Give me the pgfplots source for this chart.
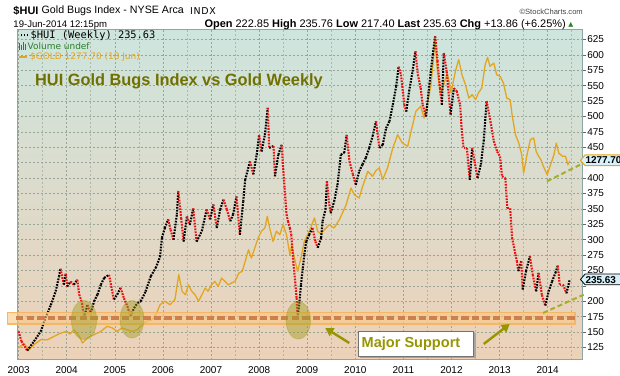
\documentclass[border=0pt]{standalone}
\usepackage{fontspec}
\setmainfont{Liberation Sans}
\newfontfamily\dvs{DejaVu Sans}
\newfontfamily\dvsw[LetterSpace=7]{DejaVu Sans}
\newfontfamily\dvm{DejaVu Sans Mono}
\usepackage{pgfplots}
\pgfplotsset{compat=1.18}
\usetikzlibrary{arrows.meta}
\definecolor{bgtop}{RGB}{205,229,222}
\definecolor{bgmid}{RGB}{240,230,172}
\definecolor{bgbot}{RGB}{237,209,184}
\definecolor{axisgray}{RGB}{140,165,165}
\definecolor{gridmaj}{RGB}{150,165,150}
\definecolor{gridmin}{RGB}{172,184,168}
\definecolor{goldc}{RGB}{226,166,34}
\definecolor{huired}{RGB}{232,16,16}
\definecolor{titleol}{RGB}{112,112,0}
\definecolor{supol}{RGB}{150,150,0}
\definecolor{trendc}{RGB}{165,175,45}
\definecolor{bandfill}{RGB}{250,200,130}
\definecolor{bandline}{RGB}{246,180,95}
\definecolor{dashbr}{RGB}{205,128,78}
\definecolor{ellc}{RGB}{160,155,30}
\definecolor{lblblue}{RGB}{214,241,250}
\definecolor{volgreen}{RGB}{40,130,40}
\definecolor{hdrgray}{RGB}{70,70,70}

\pgfplotstableread{
x y c
2003.00 151 1
2003.06 135 1
2003.18 120 0
2003.32 135 0
2003.46 151 0
2003.56 173 0
2003.67 194 0
2003.77 216 0
2003.84 240 0
2003.87 253 1
2003.94 227 0
2003.98 245 1
2004.01 224 0
2004.08 232 1
2004.15 227 0
2004.22 235 1
2004.26 211 1
2004.32 197 1
2004.36 173 0
2004.43 194 1
2004.50 181 0
2004.57 200 0
2004.64 211 0
2004.71 227 0
2004.78 238 0
2004.88 243 1
2004.98 203 0
2005.05 211 0
2005.12 222 1
2005.19 205 1
2005.26 192 1
2005.33 176 0
2005.40 189 0
2005.47 197 0
2005.54 200 0
2005.64 216 0
2005.75 241 0
2005.85 254 0
2005.94 272 0
2005.98 303 0
2006.04 319 0
2006.11 333 1
2006.16 316 1
2006.22 300 0
2006.29 341 0
2006.32 379 1
2006.38 335 1
2006.43 297 0
2006.50 338 1
2006.56 324 0
2006.63 351 1
2006.70 297 0
2006.81 314 0
2006.91 349 1
2006.98 333 0
2007.05 357 1
2007.12 319 0
2007.19 349 0
2007.26 365 1
2007.33 349 1
2007.40 330 0
2007.46 341 0
2007.53 370 1
2007.60 308 0
2007.67 362 0
2007.71 397 0
2007.81 427 1
2007.88 406 0
2007.95 438 0
2008.00 470 1
2008.05 443 0
2008.12 470 0
2008.18 514 1
2008.21 449 0
2008.30 452 1
2008.33 403 0
2008.40 438 0
2008.47 454 1
2008.50 416 1
2008.53 384 1
2008.57 341 1
2008.60 330 1
2008.64 319 1
2008.67 308 1
2008.71 265 1
2008.75 232 1
2008.78 205 1
2008.80 173 0
2008.84 200 0
2008.87 227 0
2008.91 254 0
2008.94 276 0
2008.98 297 0
2009.04 308 0
2009.11 319 1
2009.17 297 1
2009.22 287 0
2009.29 303 0
2009.32 330 0
2009.38 349 0
2009.41 395 1
2009.45 362 1
2009.49 343 0
2009.56 362 0
2009.63 389 0
2009.70 438 0
2009.77 441 0
2009.82 470 1
2009.88 427 1
2009.95 406 1
2010.01 389 0
2010.08 411 0
2010.15 422 0
2010.22 433 0
2010.29 449 0
2010.36 468 0
2010.43 492 1
2010.50 449 0
2010.57 454 0
2010.64 481 0
2010.71 492 0
2010.78 519 0
2010.85 549 0
2010.90 581 1
2010.95 568 1
2011.02 519 1
2011.06 508 0
2011.12 541 0
2011.19 573 0
2011.25 606 1
2011.30 568 1
2011.36 546 1
2011.40 519 1
2011.47 500 0
2011.54 552 0
2011.61 600 0
2011.66 630 1
2011.71 590 1
2011.76 546 1
2011.80 519 0
2011.84 603 1
2011.90 573 1
2011.98 503 0
2012.05 546 1
2012.11 541 1
2012.18 519 1
2012.21 481 1
2012.25 449 1
2012.32 449 1
2012.38 397 0
2012.43 449 1
2012.48 427 1
2012.54 400 0
2012.61 422 0
2012.67 460 0
2012.73 525 1
2012.81 492 1
2012.88 460 1
2012.95 443 1
2013.01 435 1
2013.05 403 1
2013.12 400 1
2013.16 351 1
2013.22 351 1
2013.26 303 1
2013.33 276 1
2013.36 265 1
2013.39 249 0
2013.45 265 1
2013.48 219 0
2013.55 249 0
2013.63 273 1
2013.69 243 1
2013.76 216 0
2013.81 246 1
2013.88 210 1
2013.95 193 0
2014.02 216 0
2014.09 232 0
2014.16 246 0
2014.21 258 1
2014.25 227 1
2014.32 227 1
2014.39 213 0
2014.46 235.63 0
}\huidata

\pgfplotstableread{
x y
2003.00 358
2003.11 380
2003.22 350
2003.32 375
2003.46 399
2003.60 399
2003.74 416
2003.88 432
2004.00 440
2004.07 427
2004.15 448
2004.26 416
2004.33 383
2004.43 407
2004.57 424
2004.71 440
2004.84 465
2004.95 457
2005.05 440
2005.15 457
2005.26 448
2005.36 440
2005.47 448
2005.57 473
2005.67 490
2005.78 497
2005.87 530
2005.94 571
2006.04 588
2006.15 571
2006.25 596
2006.33 719
2006.40 637
2006.47 620
2006.53 669
2006.60 637
2006.67 620
2006.74 588
2006.81 620
2006.88 653
2006.94 637
2007.01 669
2007.08 686
2007.15 661
2007.22 702
2007.29 686
2007.36 669
2007.43 678
2007.50 686
2007.58 727
2007.65 735
2007.71 784
2007.78 841
2007.84 800
2007.91 849
2007.98 899
2008.05 932
2008.12 948
2008.17 1005
2008.22 948
2008.29 882
2008.36 932
2008.43 915
2008.50 964
2008.57 915
2008.64 817
2008.68 866
2008.75 784
2008.80 735
2008.87 800
2008.94 882
2009.01 915
2009.07 948
2009.15 997
2009.22 930
2009.29 920
2009.36 940
2009.46 964
2009.56 948
2009.67 989
2009.81 1062
2009.91 1144
2009.98 1111
2010.08 1095
2010.15 1150
2010.26 1226
2010.36 1202
2010.43 1230
2010.50 1243
2010.57 1185
2010.67 1243
2010.78 1341
2010.88 1406
2010.98 1365
2011.09 1349
2011.16 1423
2011.26 1521
2011.36 1546
2011.43 1488
2011.50 1562
2011.57 1644
2011.62 1767
2011.66 1881
2011.70 1734
2011.77 1603
2011.84 1652
2011.91 1709
2011.95 1668
2011.99 1611
2012.08 1717
2012.15 1775
2012.22 1699
2012.29 1652
2012.36 1586
2012.43 1603
2012.50 1578
2012.56 1611
2012.63 1636
2012.70 1750
2012.75 1786
2012.80 1742
2012.88 1758
2012.94 1701
2013.01 1693
2013.08 1660
2013.15 1586
2013.22 1578
2013.26 1504
2013.33 1406
2013.40 1365
2013.46 1308
2013.50 1218
2013.57 1308
2013.64 1382
2013.71 1390
2013.76 1325
2013.81 1300
2013.86 1283
2013.91 1251
2013.99 1210
2014.06 1259
2014.13 1308
2014.18 1365
2014.23 1316
2014.31 1300
2014.37 1300
2014.42 1259
2014.46 1277.7
}\golddata

\begin{document}
\begin{tikzpicture}
\path[use as bounding box, fill=white] (0,0) rectangle (620bp,376bp);
\pgfplotsset{common/.style={at={(17.3bp,16.3bp)}, anchor=south west,
  width=565.4bp, height=330bp, scale only axis,
  xmin=2002.973, xmax=2014.728}}
% frame, background, grid, ticks
\begin{axis}[common, ymin=105.2, ymax=640.9,
  axis background/.style={shade, top color=bgtop, middle color=bgmid, bottom color=bgbot},
  axis line style={axisgray, line width=0.9bp},
  xtick={2003,2004,2005,2006,2007,2008,2009,2010,2011,2012,2013,2014},
  xticklabels={2003,2004,2005,2006,2007,2008,2009,2010,2011,2012,2013,2014},
  minor xtick={2003.5,2004.5,2005.5,2006.5,2007.5,2008.5,2009.5,2010.5,2011.5,2012.5,2013.5,2014.5},
  xmajorgrids, xminorgrids, ymajorgrids,
  major grid style={gridmaj, line width=0.55bp, dash pattern=on 2bp off 2bp},
  minor grid style={gridmin, line width=0.55bp, dash pattern=on 2bp off 2bp},
  ytick={125,150,...,625},
  yticklabels={125,150,175,200,{},250,275,300,325,350,375,400,{},450,475,500,525,550,575,600,625},
  ytick pos=right, yticklabel pos=right, xtick pos=bottom,
  tick align=outside, major tick length=3.5bp, minor tick length=0pt,
  xtick style={draw=none},
  ytick style={black!60, line width=0.7bp},
  ticklabel style={font=\fontsize{10}{12}\selectfont, inner sep=1bp},
  xticklabel style={yshift=-2.5bp},
]
\end{axis}
% gold on its own scale
\begin{axis}[common, hide axis, ymin=301, ymax=1922]
\addplot[goldc, line width=1.3bp, line join=round] table[x=x,y=y] {\golddata};
\end{axis}
% HUI
\begin{axis}[common, hide axis, ymin=105.2, ymax=640.9,
  colormap={hc}{color=(black) color=(huired)}, point meta min=0, point meta max=1]
\addplot[mesh, shader=flat corner, point meta=explicit, line width=2.1bp,
  dash pattern=on 1.7bp off 1.2bp] table[x=x,y=y,meta=c] {\huidata};
\end{axis}

\begin{scope}[x=1bp,y=-1bp,shift={(0,376bp)}]
% support band
\fill[bandfill, opacity=0.6] (7.3,312.5) rectangle (575,324);
\draw[bandline, line width=1.2bp, opacity=0.9] (7.3,312.5) rectangle (575,324);
\draw[dashbr, line width=4bp, dash pattern=on 7.3bp off 3.3bp] (16,318.3) -- (575,318.3);
% ellipses
\foreach \cx/\cy/\rx/\ry in {84/320/12.7/19.5, 132/319.3/12/18.7, 298.3/320.3/12.3/18.7}
  {\fill[ellc, opacity=0.45] (\cx,\cy) ellipse [x radius=\rx, y radius=\ry];
   \draw[ellc, opacity=0.35, line width=0.8bp] (\cx,\cy) ellipse [x radius=\rx, y radius=\ry];}
% trend lines
\draw[trendc, line width=2bp, dash pattern=on 5bp off 3bp] (547,181.3) -- (580.3,164.7);
\draw[trendc, line width=2bp, dash pattern=on 5bp off 3bp] (543,313) -- (583.7,294.7);
% major support box and arrows
\fill[black!35] (360.3,333.3) rectangle (475.7,358.3);
\draw[black!55, fill=white, line width=0.8bp] (358.3,331.3) rectangle (473.7,356.3);
\node[anchor=west, inner sep=0, text=supol, font=\fontsize{14.6}{16}\selectfont\bfseries] at (361.5,343.8) {Major Support};
\draw[supol, line width=2.4bp, -{Triangle[length=8bp,width=9bp]}] (349.3,343) -- (325.3,328);
\draw[supol, line width=2.4bp, -{Triangle[length=8bp,width=9bp]}] (483.7,344) -- (509.7,324);
% chart annotation title
\node[anchor=west, inner sep=0, text=titleol, font=\fontsize{16.4}{18}\selectfont\bfseries] at (35,81) {HUI Gold Bugs Index vs Gold Weekly};
% legend
\foreach \dx in {21.5,24.5,27.5} {\fill[black] (\dx-0.8,34.5) rectangle (\dx+0.8,36.1);}
\node[anchor=west, inner sep=0, font=\dvm\fontsize{10.4}{12}\selectfont] at (30.5,35.3) {\$HUI (Weekly) 235.63};
\fill[volgreen] (18.5,43) rectangle (19.8,50);
\fill[volgreen] (20.6,45) rectangle (21.9,50);
\fill[volgreen] (22.7,42) rectangle (24,50);
\fill[volgreen] (24.8,44.5) rectangle (26.1,50);
\node[anchor=west, inner sep=0, text=volgreen, font=\dvs\fontsize{9}{11}\selectfont] at (27.5,46.3) {Volume undef};
\draw[goldc, line width=2.2bp] (19,57) -- (27,57);
\node[anchor=west, inner sep=0, text=goldc, font=\dvs\fontsize{9}{11}\selectfont] at (30,57) {\$GOLD 1277.70 (18 Jun)};
% right value labels
\draw[fill=lblblue, draw=goldc, line width=1bp] (580.5,160.3) -- (585,155) -- (624,155) -- (624,165.6) -- (585,165.6) -- cycle;
\node[anchor=west, inner sep=0, font=\fontsize{10}{12}\selectfont\bfseries] at (585.3,160.5) {1277.70};
\draw[fill=lblblue, draw=black, line width=0.8bp] (580.5,279.4) -- (585,274.1) -- (624,274.1) -- (624,284.7) -- (585,284.7) -- cycle;
\node[anchor=west, inner sep=0, font=\fontsize{10}{12}\selectfont\bfseries] at (585.3,279.6) {235.63};
% header
\node[anchor=west, inner sep=0, font=\fontsize{11}{13}\selectfont\bfseries] at (13.3,11) {\$HUI};
\node[anchor=west, inner sep=0, font=\fontsize{10.7}{12}\selectfont] at (41.5,11) {Gold Bugs Index - NYSE Arca};
\node[anchor=west, inner sep=0, font=\dvsw\fontsize{9.5}{10}\selectfont] at (190,11.5) {INDX};
\node[anchor=east, inner sep=0, text=hdrgray, font=\fontsize{7.6}{9}\selectfont] at (583,11.5) {\textcopyright StockCharts.com};
\node[anchor=west, inner sep=0, font=\fontsize{9.6}{11}\selectfont] at (13.3,25) {19-Jun-2014 12:15pm};
\node[anchor=east, inner sep=0, font=\fontsize{11}{12}\selectfont] at (566,25) {\textbf{Open} 222.85 \textbf{High} 235.76 \textbf{Low} 217.40 \textbf{Last} 235.63 \textbf{Chg} +13.86 (+6.25\%)};
\node[anchor=center, inner sep=0, text=volgreen, font=\dvs\fontsize{6.5}{8}\selectfont] at (570.8,24.5) {▲};
\end{scope}
\end{tikzpicture}
\end{document}
